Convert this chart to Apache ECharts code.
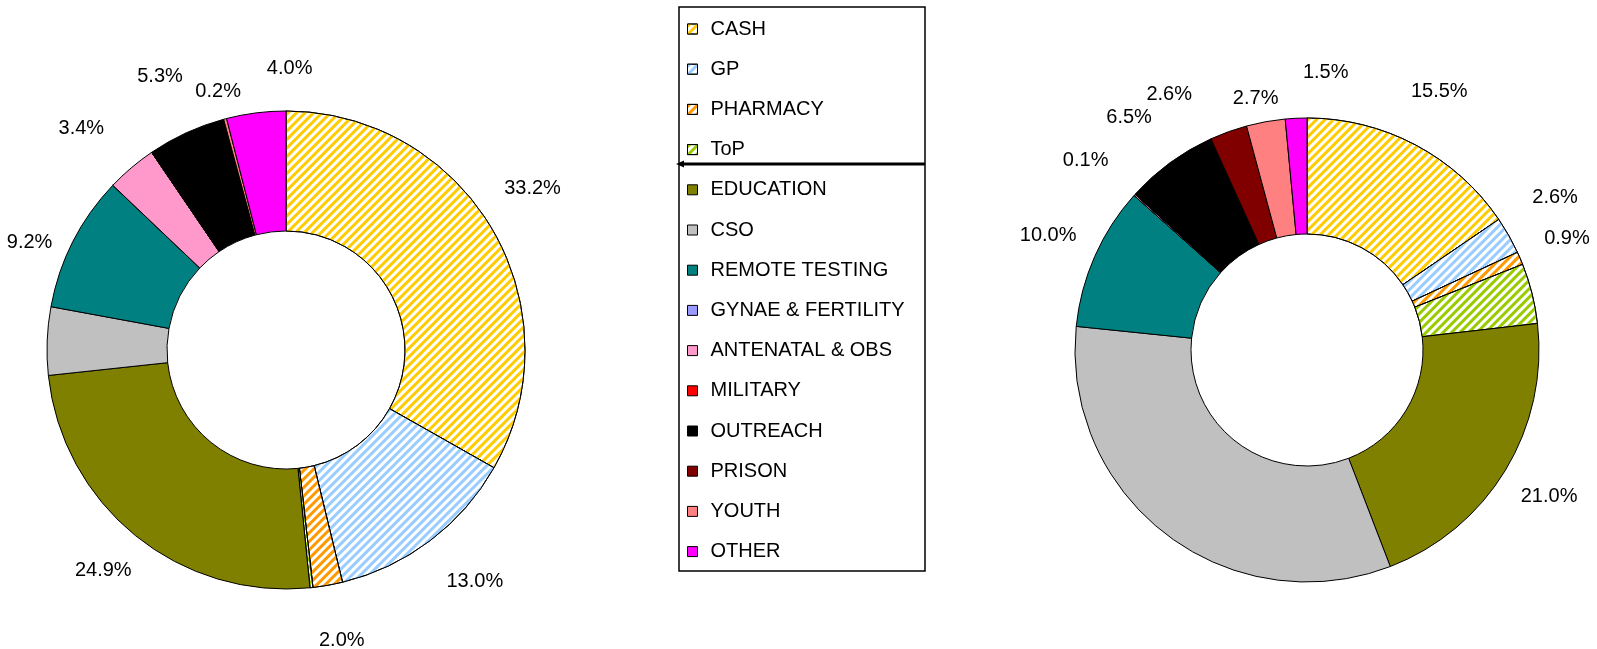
<!DOCTYPE html>
<html>
<head>
<meta charset="utf-8">
<script src="https://cdn.jsdelivr.net/npm/echarts@6/dist/echarts.min.js"></script>
<style>
  html, body { margin: 0; padding: 0; background: #fff; }
  #main { width: 1597px; height: 649px; }
</style>
</head>
<body>
<div id="main"></div>
<script>
// categories, in legend / slice order
var categories = ['CASH', 'GP', 'PHARMACY', 'ToP', 'EDUCATION', 'CSO', 'REMOTE TESTING',
  'GYNAE & FERTILITY', 'ANTENATAL & OBS', 'MILITARY', 'OUTREACH', 'PRISON', 'YOUTH', 'OTHER'];
// percentages
var leftValues  = [33.2, 13.0, 2.0, 0.2, 24.9, 4.6, 9.2, 0, 3.4, 0, 5.3, 0, 0.2, 4.0];
var rightValues = [15.5, 2.6, 0.9, 4.2, 21.0, 32.5, 10.0, 0, 0.1, 0, 6.5, 2.6, 2.7, 1.5];
// slices drawn without a data label
var unlabeled = ['ToP', 'CSO'];

var myChart = echarts.init(document.getElementById('main'));

var palette = ['#FFCC00', '#99CCFF', '#FF9900', '#99CC00', '#808000', '#C0C0C0', '#008080',
  '#9999FF', '#FF99CC', '#FF0000', '#000000', '#800000', '#FF8080', '#FF00FF'];
var striped = ['CASH', 'GP', 'PHARMACY', 'ToP'];

// labels that the original moved off their slice's mid line (to dodge each other)
var leftNudge = {
  'CASH': [-4, -15], 'GP': [14, 0], 'PHARMACY': [5, 5], 'REMOTE TESTING': [2, 24],
  'EDUCATION': [0, -5], 'ANTENATAL & OBS': [-17, 0], 'OUTREACH': [-5, -10],
  'YOUTH': [6, 22], 'OTHER': [40, 6]
};
var rightNudge = {
  'CASH': [0, -8], 'GP': [2, -13], 'ANTENATAL & OBS': [-11, 0], 'OUTREACH': [-11, -4],
  'PRISON': [-42, 11], 'YOUTH': [-1, 27], 'OTHER': [32, 5]
};

function sliceData(values) {
  return categories.map(function (name, i) {
    var style;
    if (striped.indexOf(name) >= 0) {
      style = {
        color: '#ffffff',
        decal: {
          symbol: 'rect', symbolSize: 1,
          dashArrayX: [1, 0], dashArrayY: [3, 3],
          rotation: -Math.PI / 4,
          color: palette[i]
        }
      };
    } else {
      style = { color: palette[i] };
    }
    return { name: name, value: values[i], itemStyle: style };
  });
}

function labelData(values, nudge) {
  return categories.map(function (name, i) {
    return {
      name: name, value: values[i],
      label: {
        show: values[i] > 0 && unlabeled.indexOf(name) < 0,
        offset: nudge[name] || [0, 0]
      }
    };
  });
}

function donut(values, center, radius) {
  return {
    type: 'pie', center: center, radius: radius,
    startAngle: 90, clockwise: true,
    avoidLabelOverlap: false,
    label: { show: false }, labelLine: { show: false },
    itemStyle: { borderColor: '#000', borderWidth: 1 },
    emphasis: { disabled: true },
    data: sliceData(values)
  };
}

// transparent ring used only to place the % labels around a donut
function labelRing(values, nudge, center, radius) {
  return {
    type: 'pie', center: center, radius: radius,
    startAngle: 90, clockwise: true, silent: true,
    legendHoverLink: false, avoidLabelOverlap: false,
    itemStyle: { color: 'rgba(0,0,0,0)', borderWidth: 0 },
    label: {
      position: 'inside', color: '#000', fontSize: 20,
      fontFamily: 'Liberation Sans, Arial, sans-serif',
      formatter: function (p) { return p.value.toFixed(1) + '%'; }
    },
    labelLayout: { hideOverlap: false },
    labelLine: { show: false },
    emphasis: { disabled: true },
    data: labelData(values, nudge)
  };
}

var option = {
  animation: false,
  legend: {
    orient: 'vertical', left: 687, top: 19, padding: 0,
    icon: 'rect', itemWidth: 10, itemHeight: 10, itemGap: 20.2,
    selectedMode: false,
    itemStyle: { borderColor: '#000', borderWidth: 1 },
    textStyle: {
      color: '#000', fontSize: 20, lineHeight: 20, padding: [0, 0, 0, 8],
      fontFamily: 'Liberation Sans, Arial, sans-serif'
    },
    data: categories
  },
  graphic: [
    { type: 'rect', shape: { x: 679, y: 7, width: 246, height: 564 },
      style: { fill: 'none', stroke: '#000', lineWidth: 1.5 } },
    { type: 'line', shape: { x1: 682, y1: 164, x2: 925, y2: 164 },
      style: { stroke: '#000', lineWidth: 3 } },
    { type: 'polygon', shape: { points: [[676, 164], [684, 160.5], [684, 167.5]] },
      style: { fill: '#000' } }
  ],
  series: [
    donut(leftValues, [286, 350], [119, 239]),
    donut(rightValues, [1307, 350], [116, 232]),
    labelRing(leftValues, leftNudge, [286, 350], [272, 302]),
    labelRing(rightValues, rightNudge, [1307, 350], [265, 295])
  ]
};

myChart.setOption(option);
</script>
</body>
</html>
